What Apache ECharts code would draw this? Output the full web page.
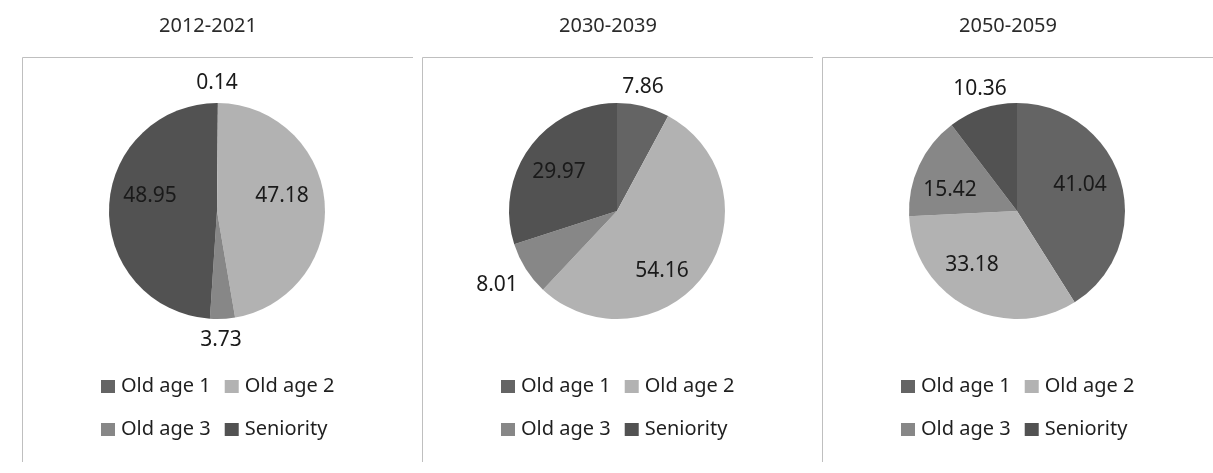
<!DOCTYPE html>
<html>
<head>
<meta charset="utf-8">
<title>Age group shares by period</title>
<script src="https://cdn.jsdelivr.net/npm/echarts@6/dist/echarts.min.js"></script>
<style>
  html, body { margin: 0; padding: 0; background: #ffffff; }
  #chart { width: 1213px; height: 473px; }
</style>
</head>
<body>
<div id="chart"></div>
<script>
// Shares (%) of each age group, one pie per period
const categories = ['Old age 1', 'Old age 2', 'Old age 3', 'Seniority'];
const periods = ['2012-2021', '2030-2039', '2050-2059'];
const values2012 = [0.14, 47.18, 3.73, 48.95];
const values2030 = [7.86, 54.16, 8.01, 29.97];
const values2050 = [41.04, 33.18, 15.42, 10.36];
const periodValues = [values2012, values2030, values2050];

const colors = ['#646464', '#b2b2b2', '#878787', '#525252'];
const FONT = '"Noto Sans", "Open Sans", sans-serif';

// Panel geometry (each panel is 400px wide)
const PANEL_W = 400;
const PIE_CX = 217, PIE_CY = 211, PIE_R = 108;

// Where each value label sits, relative to its pie's centre
const labelOffsets = [
  [[0, -128], [65, -15], [4, 129], [-67, -15]],
  [[26, -124], [45, 60], [-120, 74], [-58, -39]],
  [[63, -26], [-45, 54], [-67, -21], [-37, -122]]
];

const chart = echarts.init(document.getElementById('chart'), null, { renderer: 'canvas' });

const titles = [], legends = [], series = [], frame = [];

periods.forEach(function (period, i) {
  const dx = i * PANEL_W;
  const cx = PIE_CX + dx, cy = PIE_CY;

  titles.push({
    text: period,
    left: 208 + dx,
    top: 16,
    padding: 0,
    textAlign: 'center',
    textStyle: { fontFamily: FONT, fontSize: 20, fontWeight: 'normal', color: '#2b2b2b' }
  });

  legends.push({
    data: categories,
    left: 101 + dx,
    top: 372,
    width: 250,
    orient: 'horizontal',
    icon: 'rect',
    itemWidth: 14,
    itemHeight: 13,
    itemGap: 14,
    padding: 0,
    selectedMode: false,
    textStyle: { fontFamily: FONT, fontSize: 20, lineHeight: 29, color: '#1f1f1f', padding: [0, 0, 0, 1] }
  });

  series.push({
    type: 'pie',
    name: period,
    center: [cx, cy],
    radius: PIE_R,
    startAngle: 90,
    clockwise: true,
    avoidLabelOverlap: false,
    silent: true,
    itemStyle: { borderWidth: 0 },
    label: {
      show: true,
      position: 'inside',
      formatter: '{c}',
      fontFamily: FONT,
      fontSize: 21,
      color: '#1a1a1a'
    },
    labelLine: { show: false },
    labelLayout: function (params) {
      const off = labelOffsets[i][params.dataIndex];
      return { x: cx + off[0], y: cy + off[1], align: 'center', verticalAlign: 'middle' };
    },
    data: categories.map(function (name, k) {
      return { name: name, value: periodValues[i][k] };
    })
  });

  // Panel frame: top and left rules
  const x0 = 22.5 + dx, y0 = 57.5, x1 = 413 + dx + (i === 2 ? 10 : 0), y1 = 462;
  frame.push({
    type: 'polyline',
    silent: true,
    shape: { points: [[x0, y1], [x0, y0], [x1, y0]] },
    style: { stroke: '#bfbfbf', lineWidth: 1, fill: null }
  });
});

chart.setOption({
  backgroundColor: '#ffffff',
  animation: false,
  color: colors,
  title: titles,
  legend: legends,
  graphic: frame,
  series: series
});
</script>
</body>
</html>
